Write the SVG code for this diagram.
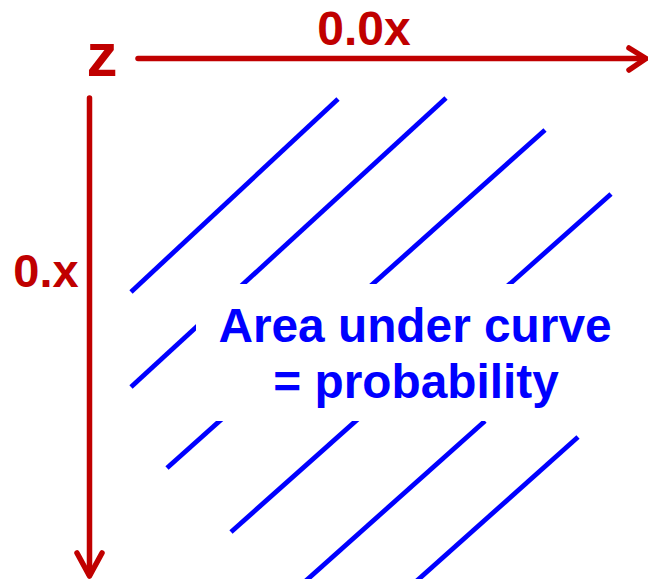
<svg xmlns="http://www.w3.org/2000/svg" width="648" height="579" viewBox="0 0 648 579">
<style>
.red{stroke:#C00000;fill:none;stroke-width:5.5;stroke-linecap:round;stroke-linejoin:round}
.hatch{stroke:#0000FF;stroke-width:4.8;stroke-linecap:butt;fill:none}
.lbl{font-family:"Liberation Sans",Arial,sans-serif;font-weight:bold;fill:#C00000;text-anchor:middle}
.area{font-family:"Liberation Sans",Arial,sans-serif;font-weight:bold;fill:#0000FF;text-anchor:middle;font-size:47.8px}
</style>
<rect width="648" height="579" fill="#FFFFFF"/>
<g id="hatching">
<line class="hatch" x1="338" y1="99" x2="131" y2="292"/>
<line class="hatch" x1="446" y1="98" x2="131" y2="387"/>
<line class="hatch" x1="545" y1="130" x2="167" y2="468"/>
<line class="hatch" x1="611" y1="194" x2="231" y2="532"/>
<line class="hatch" x1="485" y1="421" x2="300" y2="586"/>
<line class="hatch" x1="578" y1="437" x2="411" y2="586"/>
</g>
<g id="area-label">
<rect x="196" y="284" width="436" height="137" fill="#FFFFFF"/>
<text class="area" x="415" y="342">Area under curve</text>
<text class="area" x="416" y="398">= probability</text>
</g>
<g id="connectors">
<line class="red" x1="138" y1="58.5" x2="645" y2="58.5"/>
<polyline class="red" points="629,48 646,58.5 629,70"/>
<line class="red" x1="89.5" y1="98" x2="89.5" y2="575"/>
<polyline class="red" points="77,553 89.5,576 102,553"/>
</g>
<g id="z-label"><text class="lbl" x="102" y="76" font-size="62">z</text></g>
<g id="top-label"><text class="lbl" x="364" y="45" font-size="48">0.0x</text></g>
<g id="left-label"><text class="lbl" x="46" y="287" font-size="47">0.x</text></g>
</svg>
